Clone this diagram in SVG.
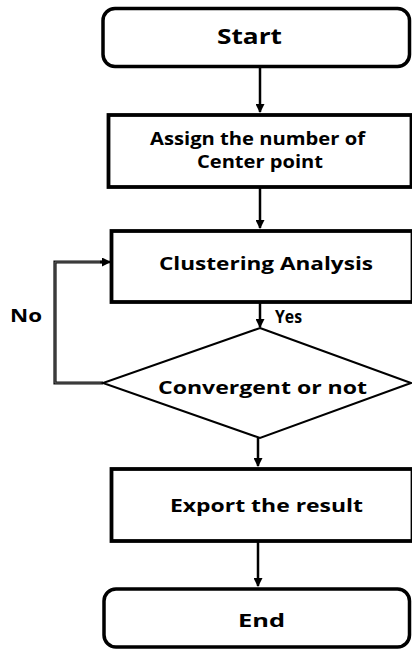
<svg xmlns="http://www.w3.org/2000/svg" width="412" height="649" viewBox="0 0 412 649">
<style>
.term{fill:#fff;stroke:#000;stroke-width:3.5}
.box{fill:#fff;stroke:#000;stroke-width:3.8}
.dia{fill:#fff;stroke:#000;stroke-width:2}
.t{font-family:"Open Sans","DejaVu Sans",sans-serif;font-weight:bold;font-size:18.5px;fill:#000}
.big{font-size:21px}
.conn{fill:none;stroke:#000;stroke-width:2.5}
.loop{fill:none;stroke:#111;stroke-width:3.2}
.loopin{fill:none;stroke:#666;stroke-width:1}
</style>
<defs>
<marker id="ah" markerWidth="9" markerHeight="9" refX="8" refY="4.5" orient="auto" markerUnits="userSpaceOnUse">
<path d="M0,0 L9,4.5 L0,9 Z" fill="#000"/>
</marker>
</defs>
<rect width="412" height="649" fill="#fff"/>
<g id="connectors">
<line class="conn" x1="260" y1="68" x2="260" y2="112" marker-end="url(#ah)"/>
<line class="conn" x1="260" y1="188" x2="260" y2="228" marker-end="url(#ah)"/>
<line class="conn" x1="260" y1="303" x2="260" y2="327" marker-end="url(#ah)"/>
<line class="conn" x1="258" y1="438" x2="258" y2="466" marker-end="url(#ah)"/>
<line class="conn" x1="258" y1="542" x2="258" y2="586" marker-end="url(#ah)"/>
<polyline class="loop" points="103,383 55,383 55,262 104,262"/>
<polyline class="loopin" points="103,383 55,383 55,262 104,262"/>
<line class="conn" x1="100" y1="262" x2="110" y2="262" marker-end="url(#ah)"/>
<text class="t" x="275" y="323" textLength="27" lengthAdjust="spacingAndGlyphs">Yes</text>
<text class="t" x="10" y="322" textLength="32" lengthAdjust="spacingAndGlyphs">No</text>
</g>
<g id="start">
<rect class="term" x="103" y="8.5" width="306.5" height="58" rx="12"/>
<text class="t big" x="217" y="44" textLength="65" lengthAdjust="spacingAndGlyphs">Start</text>
</g>
<g id="assign">
<rect class="box" x="108.5" y="115" width="303" height="72"/>
<text class="t" x="150" y="145" textLength="215" lengthAdjust="spacingAndGlyphs">Assign the number of</text>
<text class="t" x="197" y="168" textLength="126" lengthAdjust="spacingAndGlyphs">Center point</text>
</g>
<g id="clustering">
<rect class="box" x="111.5" y="231" width="301" height="71"/>
<text class="t" x="159" y="270" textLength="214" lengthAdjust="spacingAndGlyphs">Clustering Analysis</text>
</g>
<g id="convergent">
<polygon class="dia" points="260,328 411,383 260,438 103,383"/>
<text class="t" x="158" y="394" textLength="209" lengthAdjust="spacingAndGlyphs">Convergent or not</text>
</g>
<g id="export">
<rect class="box" x="111.5" y="469" width="301" height="72"/>
<text class="t" x="170" y="512" textLength="193" lengthAdjust="spacingAndGlyphs">Export the result</text>
</g>
<g id="end">
<rect class="term" x="104" y="589" width="305.5" height="58" rx="12"/>
<text class="t" x="238" y="627" textLength="47" lengthAdjust="spacingAndGlyphs">End</text>
</g>
</svg>
